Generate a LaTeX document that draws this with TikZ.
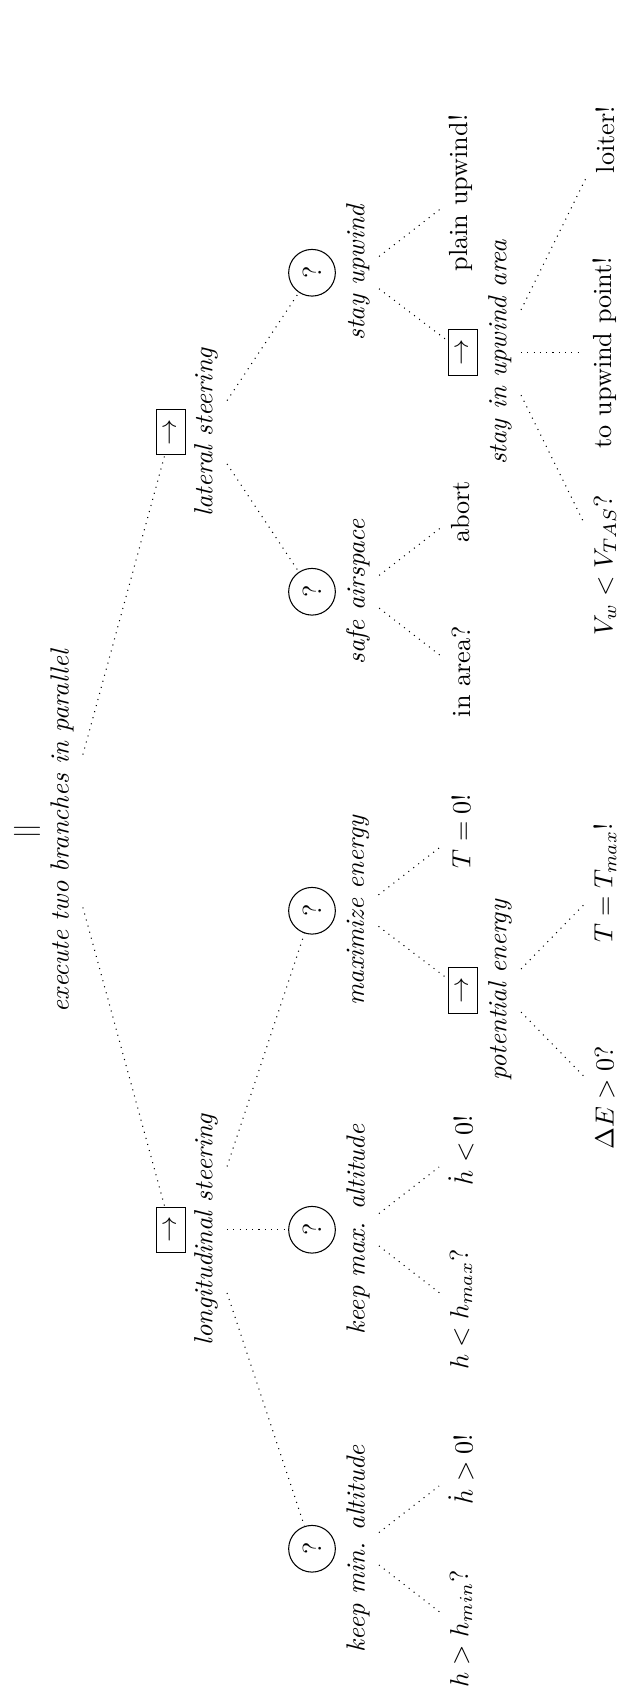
\documentclass[tikz,border=0pt]{standalone}
\begin{document}
\begin{tikzpicture}[x=0.3817pt, y=-0.3817pt,
  every node/.style={rotate=90},
  sel/.style={draw, circle},
  seqbox/.style={draw, minimum width=17.3pt, minimum height=10.8pt, inner sep=0pt},
  lbl/.style={font=\itshape},
  edg/.style={dotted}]
\useasboundingbox (0,0) rectangle (621,1691);
% root
\node (root) at (27,831) {$||$};
\node[lbl] (rootl) at (62,831) {execute two branches in parallel};
% level 1
\node[seqbox] (lat) at (171,432.25) {$\rightarrow$};
\node[lbl] (latl) at (206,432.25) {lateral steering};
\node[seqbox] (lon) at (171,1229.75) {$\rightarrow$};
\node[lbl] (lonl) at (206,1229.75) {longitudinal steering};
% level 2
\node[sel] (su) at (312,272.75) {?};
\node[lbl] (sul) at (358,272.75) {stay upwind};
\node[sel] (sa) at (312,591.75) {?};
\node[lbl] (sal) at (358,591.75) {safe airspace};
\node[sel] (me) at (312,910.75) {?};
\node[lbl] (mel) at (358,910.75) {maximize energy};
\node[sel] (kx) at (312,1229.75) {?};
\node[lbl] (kxl) at (358,1229.75) {keep max. altitude};
\node[sel] (kn) at (312,1548.75) {?};
\node[lbl] (knl) at (358,1548.75) {keep min. altitude};
% level 3
\node (plain) at (461,193) {plain upwind!};
\node[seqbox] (sia) at (463,352.5) {$\rightarrow$};
\node[lbl] (sial) at (500,352.5) {stay in upwind area};
\node (abort) at (461,512) {abort};
\node (inarea) at (461,671.5) {in area?};
\node (tzero) at (461,831) {$T=0$!};
\node[seqbox] (pe) at (463,990.5) {$\rightarrow$};
\node[lbl] (pel) at (500,990.5) {potential energy};
\node (hdlt) at (461,1150) {$\dot{h}<0$!};
\node (hltmax) at (461,1309.5) {$h<h_{max}$?};
\node (hdgt) at (461,1469) {$\dot{h}>0$!};
\node (hgtmin) at (461,1628.5) {$h>h_{min}$?};
% level 4
\node (loiter) at (605,139.5) {loiter!};
\node (toup) at (605,352.5) {to upwind point!};
\node (vw) at (605,565.5) {$V_w<V_{TAS}$?};
\node (tmax) at (605,883) {$T=T_{max}$!};
\node (de) at (605,1098) {$\Delta E>0$?};
% edges
\draw[edg] (rootl) -- (lat);
\draw[edg] (rootl) -- (lon);
\draw[edg] (latl) -- (su);
\draw[edg] (latl) -- (sa);
\draw[edg] (lonl) -- (me);
\draw[edg] (lonl) -- (kx);
\draw[edg] (lonl) -- (kn);
\draw[edg] (sul) -- (plain);
\draw[edg] (sul) -- (sia);
\draw[edg] (sal) -- (abort);
\draw[edg] (sal) -- (inarea);
\draw[edg] (mel) -- (tzero);
\draw[edg] (mel) -- (pe);
\draw[edg] (kxl) -- (hdlt);
\draw[edg] (kxl) -- (hltmax);
\draw[edg] (knl) -- (hdgt);
\draw[edg] (knl) -- (hgtmin);
\draw[edg] (sial) -- (loiter);
\draw[edg] (sial) -- (toup);
\draw[edg] (sial) -- (vw);
\draw[edg] (pel) -- (tmax);
\draw[edg] (pel) -- (de);
\end{tikzpicture}
\end{document}
